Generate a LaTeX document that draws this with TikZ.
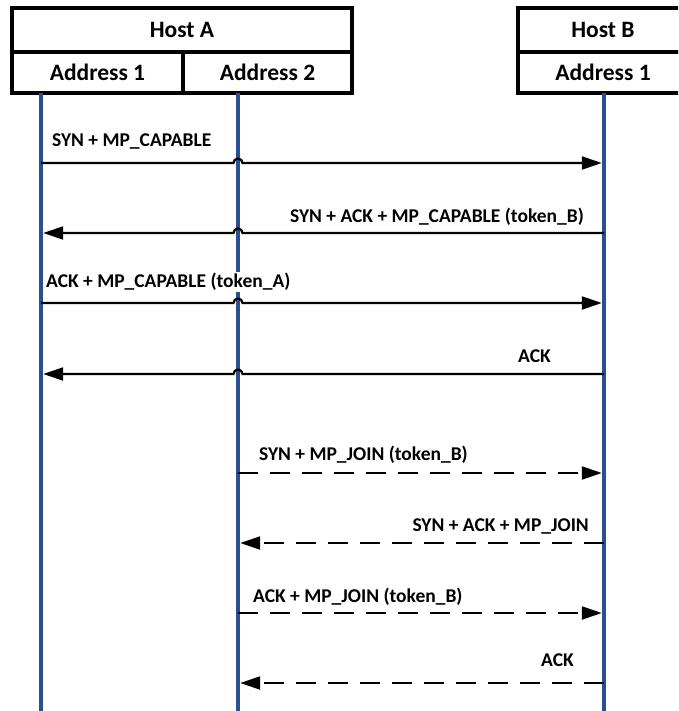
\documentclass[tikz,border=0pt]{standalone}
\usepackage{fontspec}
\setmainfont{Carlito}
\usetikzlibrary{arrows.meta,positioning}

\definecolor{lifeblue}{RGB}{43,80,145}

\tikzset{
  hostbox/.style={draw,line width=3.2pt,minimum height=44pt,inner sep=0pt,outer sep=0pt,
    font=\fontsize{23.5}{27}\selectfont\bfseries},
  cellbox/.style={hostbox,minimum height=41pt},
  lifeline/.style={lifeblue,line width=4.5pt},
  msg/.style={line width=2.2pt,shorten >=2.2pt,-{Triangle[length=20pt,width=13pt]}},
  joinmsg/.style={msg,dash pattern=on 20pt off 12pt},
  msglabel/.style={font=\fontsize{19.5}{23}\selectfont\bfseries,inner sep=1pt}
}

\begin{document}
\begin{tikzpicture}[x=1pt,y=1pt]
  \useasboundingbox (0,0) rectangle (678,-711);
  \clip (0,0) rectangle (678,-711);

  % hosts and their addresses
  \node[hostbox,minimum width=340pt,anchor=north west] (hostA) at (12,-8) {Host A};
  \node[cellbox,minimum width=171pt,anchor=north west] (addrA1) at (hostA.south west) {Address 1};
  \node[cellbox,minimum width=169pt,right=0pt of addrA1] (addrA2) {Address 2};
  \node[hostbox,minimum width=170pt,anchor=north west] (hostB) at (518,-8) {Host B};
  \node[cellbox,minimum width=170pt,below=0pt of hostB] (addrB1) {Address 1};

  % lifelines
  \coordinate (topA1) at (41,-93);   \coordinate (endA1) at (41,-711);
  \coordinate (topA2) at (238,-93);  \coordinate (endA2) at (238,-711);
  \coordinate (topB1) at (604,-93);  \coordinate (endB1) at (604,-711);
  \draw[lifeline] (topA1) -- (endA1);
  \draw[lifeline] (topA2) -- (endA2);
  \draw[lifeline] (topB1) -- (endB1);

  \foreach \n/\y in {1/163,2/233,3/303,4/374,5/473,6/543,7/613,8/683}
    \coordinate (m\n) at (0,-\y);

  % MP_CAPABLE handshake, hopping over the Address 2 line
  \draw[msg] (topA1 |- m1) -- ([xshift=-4.5pt]topA2 |- m1)
    arc[start angle=180,end angle=0,radius=4.5pt] -- (topB1 |- m1);
  \draw[msg] (topB1 |- m2) -- ([xshift=4.5pt]topA2 |- m2)
    arc[start angle=0,end angle=180,radius=4.5pt] -- (topA1 |- m2);
  \draw[msg] (topA1 |- m3) -- ([xshift=-4.5pt]topA2 |- m3)
    arc[start angle=180,end angle=0,radius=4.5pt] -- (topB1 |- m3);
  \draw[msg] (topB1 |- m4) -- ([xshift=4.5pt]topA2 |- m4)
    arc[start angle=0,end angle=180,radius=4.5pt] -- (topA1 |- m4);

  % MP_JOIN subflow
  \draw[joinmsg] (topA2 |- m5) -- (topB1 |- m5);
  \draw[joinmsg] (topB1 |- m6) -- (topA2 |- m6);
  \draw[joinmsg] (topA2 |- m7) -- (topB1 |- m7);
  \draw[joinmsg] (topB1 |- m8) -- (topA2 |- m8);

  \node[msglabel,anchor=west] (lbl1) at (51,-141) {SYN + MP\_CAPABLE};
  \node[msglabel,anchor=east] (lbl2) at (585,-217) {SYN + ACK + MP\_CAPABLE (token\_B)};
  \node[msglabel,anchor=west,fill=white] (lbl3) at (45,-282) {ACK + MP\_CAPABLE (token\_A)};
  \node[msglabel,anchor=east] (lbl4) at (552,-356) {ACK};
  \node[msglabel,anchor=west] (lbl5) at (258,-455) {SYN + MP\_JOIN (token\_B)};
  \node[msglabel,anchor=east] (lbl6) at (590,-526) {SYN + ACK + MP\_JOIN};
  \node[msglabel,anchor=west] (lbl7) at (252,-597) {ACK + MP\_JOIN (token\_B)};
  \node[msglabel,anchor=east] (lbl8) at (575,-660) {ACK};
\end{tikzpicture}
\end{document}
